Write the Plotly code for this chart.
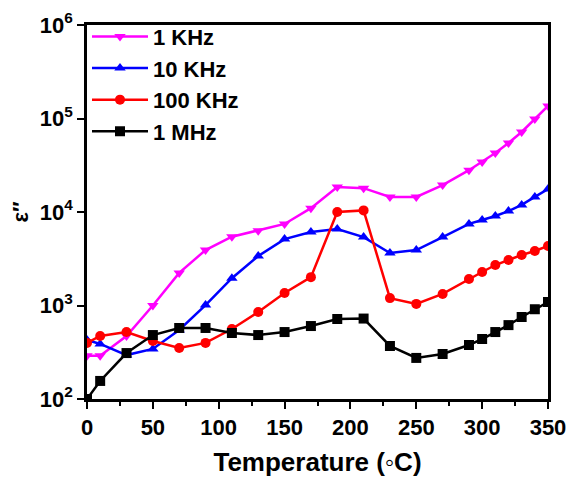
import plotly.graph_objects as go

temperature = [0, 10, 30, 50, 70, 90, 110, 130, 150, 170, 190, 210, 230, 250, 270, 290, 300, 310, 320, 330, 340, 350]

eps_1khz = [290, 290, 472, 1000, 2230, 3920, 5440, 6310, 7450, 11000, 18500, 18000, 14500, 14500, 19400, 28000, 34300, 42700, 54700, 71700, 98800, 136000]
eps_10khz = [427, 388, 295, 343, 547, 1010, 1960, 3380, 5130, 6100, 6580, 5390, 3640, 3920, 5390, 7460, 8200, 9060, 10230, 11900, 14500, 17600]
eps_100khz = [398, 472, 520, 417, 351, 398, 560, 851, 1360, 2010, 10000, 10400, 1200, 1040, 1330, 1920, 2280, 2710, 3070, 3470, 3830, 4330]
eps_1mhz = [100, 156, 310, 483, 575, 575, 508, 483, 520, 603, 717, 725, 369, 275, 303, 378, 438, 520, 617, 753, 912, 1090]

series_names = ["1 KHz", "10 KHz", "100 KHz", "1 MHz"]
series_values = [eps_1khz, eps_10khz, eps_100khz, eps_1mhz]
series_colors = ["#ff00ff", "#0000ff", "#ff0000", "#000000"]
series_symbols = ["triangle-down", "triangle-up", "circle", "square"]

y_tickvals = [1e2, 1e3, 1e4, 1e5, 1e6]
y_ticktext = ["10<sup>2</sup>", "10<sup>3</sup>", "10<sup>4</sup>", "10<sup>5</sup>", "10<sup>6</sup>"]
x_tickvals = [0, 50, 100, 150, 200, 250, 300, 350]

FONT = "Liberation Sans, Arial, sans-serif"

fig = go.Figure()
for name, vals, col, sym in zip(series_names, series_values, series_colors, series_symbols):
    fig.add_trace(go.Scatter(
        x=temperature, y=vals, name=name, mode="lines+markers",
        line=dict(color=col, width=2.5),
        marker=dict(symbol=sym, size=10, color=col),
    ))

fig.update_layout(
    width=570, height=477,
    margin=dict(l=87, r=22, t=25, b=78),
    paper_bgcolor="white", plot_bgcolor="white",
    font=dict(family=FONT, color="black"),
    showlegend=True,
    legend=dict(x=0.0, y=1.025, xanchor="left", yanchor="top",
                bgcolor="rgba(0,0,0,0)", traceorder="normal",
                font=dict(size=22, family=FONT, weight="bold"),
                tracegroupgap=0, itemwidth=56),
)

fig.update_xaxes(
    range=[0, 350], tickvals=x_tickvals,
    showgrid=False, zeroline=False, automargin=False,
    showline=True, linecolor="black", linewidth=2.5, mirror=True,
    ticks="outside", ticklen=7, tickwidth=2, tickcolor="black",
    minor=dict(dtick=25, tick0=0, ticks="outside", ticklen=4, tickwidth=2, tickcolor="black"),
    tickfont=dict(size=22, family=FONT, weight="bold"),
    title=dict(text="Temperature (◦C)", font=dict(size=26, family=FONT, weight="bold"), standoff=16),
)

fig.update_yaxes(
    type="log", range=[2, 6], tickvals=y_tickvals, ticktext=y_ticktext,
    showgrid=False, zeroline=False, automargin=False,
    showline=True, linecolor="black", linewidth=2.5, mirror=True,
    ticks="outside", ticklen=7, tickwidth=2, tickcolor="black",
    tickfont=dict(size=22, family=FONT, weight="bold"),
    title=dict(text="ε′′", font=dict(size=22, family=FONT, weight="bold"), standoff=6),
)

fig.write_html("out.html")
